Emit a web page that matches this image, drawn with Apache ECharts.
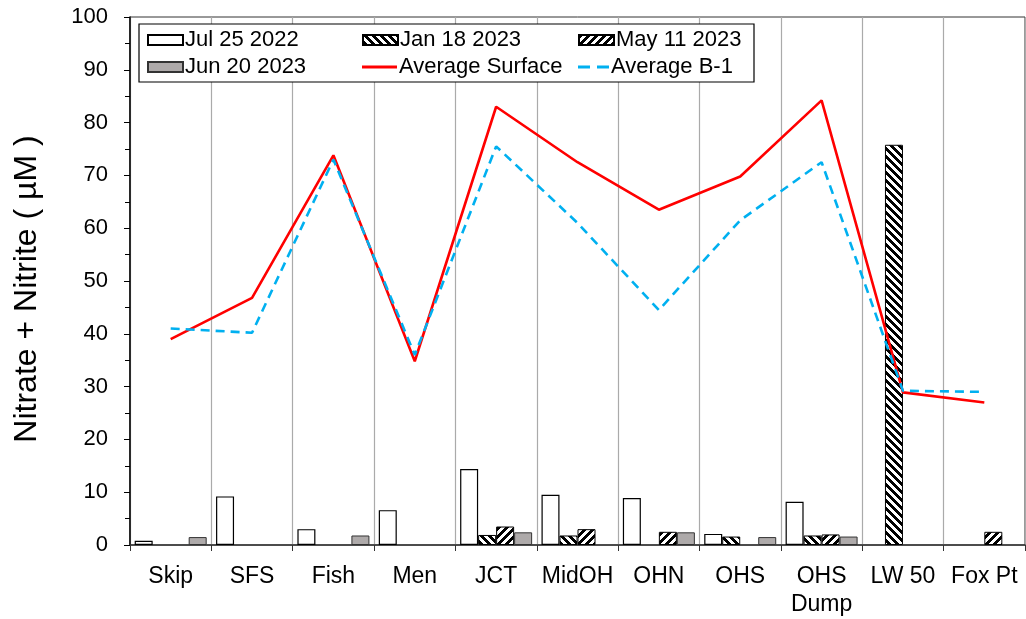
<!DOCTYPE html>
<html>
<head>
<meta charset="utf-8">
<script src="https://cdn.jsdelivr.net/npm/echarts@6/dist/echarts.min.js"></script>
<style>html,body{margin:0;padding:0;background:#fff;}#c{width:1026px;height:619px;}</style>
</head>
<body>
<div id="c"></div>
<script>
const categories = ['Skip','SFS','Fish','Men','JCT','MidOH','OHN','OHS','OHS\nDump','LW 50','Fox Pt'];
const jul2022 = [0.8, 9.2, 3.0, 6.6, 14.4, 9.5, 8.9, 2.1, 8.2, null, null];
const jan2023 = [null, null, null, null, 1.9, 1.8, null, 1.6, 1.8, 75.8, null];
const may2023 = [null, null, null, null, 3.5, 3.0, 2.5, null, 2.0, null, 2.5];
const jun2023 = [1.5, null, 1.8, null, 2.4, null, 2.4, 1.5, 1.6, null, null];
const avgSurface = [39.0, 46.8, 73.8, 34.8, 83.0, 72.5, 63.5, 69.8, 84.2, 28.9, 27.0];
const avgB1 = [41.0, 40.2, 73.0, 36.0, 75.5, 61.0, 44.5, 61.5, 72.5, 29.2, 29.0];
const yTicks = [0,10,20,30,40,50,60,70,80,90,100];
const seriesNames = ['Jul 25 2022','Jan 18 2023','May 11 2023','Jun 20 2023','Average Surface','Average B-1'];

function stripe(dir) {
  const n = 8, cv = document.createElement('canvas');
  cv.width = n; cv.height = n;
  const ctx = cv.getContext('2d');
  const img = ctx.createImageData(n, n);
  for (let y = 0; y < n; y++) for (let x = 0; x < n; x++) {
    const k = dir > 0 ? ((x + y) % n) : (((x - y) % n) + n) % n;
    const v = k < 4 ? 0 : 255;
    const i = (y * n + x) * 4;
    img.data[i] = v; img.data[i+1] = v; img.data[i+2] = v; img.data[i+3] = 255;
  }
  ctx.putImageData(img, 0, 0);
  return { image: cv, repeat: 'repeat' };
}

const font = 'Liberation Sans, Arial, sans-serif';
const legendText = { fontFamily: font, fontSize: 22, color: '#000', lineHeight: 24, padding: [0, 0, 0, -3] };
const colX = [147, 362, 578];
const rowY = [40, 67];
function mkLegend(idx, col, row, extra) {
  return Object.assign({
    left: colX[col], top: rowY[row] - 12, padding: 0, z: 6,
    data: [seriesNames[idx]], icon: 'rect', itemWidth: 35, itemHeight: 10,
    textStyle: legendText
  }, extra || {});
}

const chart = echarts.init(document.getElementById('c'), null, {renderer: 'canvas'});
const barBase = { type: 'bar', barWidth: 18, barGap: '0%' };
chart.setOption({
  animation: false,
  backgroundColor: '#fff',
  grid: { left: 130, right: 1, top: 17, bottom: 72, show: true, borderColor: '#333', borderWidth: 1, backgroundColor: 'transparent' },
  legend: [
    mkLegend(0, 0, 0),
    mkLegend(1, 1, 0),
    mkLegend(2, 2, 0),
    mkLegend(3, 0, 1),
    mkLegend(4, 1, 1, { itemHeight: 3 }),
    mkLegend(5, 2, 1, { itemWidth: 31, itemHeight: 3, icon: 'path://M0,0h12v3h-12z M19,0h12v3h-12z' })
  ],
  graphic: [{
    type: 'rect', z: 5,
    shape: { x: 139, y: 24, width: 615, height: 58 },
    style: { fill: '#fff', stroke: '#000', lineWidth: 1.2 }
  }, {
    type: 'text', x: 27, y: 289, rotation: Math.PI / 2,
    style: { text: 'Nitrate + Nitrite ( µM )', font: '32px ' + font, fill: '#000', textAlign: 'center', textVerticalAlign: 'middle' }
  }],
  xAxis: {
    type: 'category', data: categories, boundaryGap: true,
    axisLine: { lineStyle: { color: '#333', width: 1.5 } },
    axisTick: { show: true, inside: false, length: 6, lineStyle: { color: '#333' } },
    splitLine: { show: true, lineStyle: { color: '#aaa', width: 1.2 } },
    axisLabel: { fontFamily: font, fontSize: 23, color: '#000', margin: 18, lineHeight: 28, interval: 0 }
  },
  yAxis: {
    type: 'value', min: 0, max: 100, interval: 10,
    axisLine: { show: true, lineStyle: { color: '#000', width: 1.5 } },
    axisTick: { show: true, inside: false, length: 6, lineStyle: { color: '#000' } },
    minorTick: { show: true, splitNumber: 2, length: 5, lineStyle: { color: '#000' } },
    splitLine: { show: false },
    axisLabel: { fontFamily: font, fontSize: 22, color: '#000', margin: 22, formatter: v => yTicks.includes(v) ? String(v) : '' }
  },
  series: [
    Object.assign({}, barBase, { name: seriesNames[0], data: jul2022, itemStyle: { color: '#fff', borderColor: '#000', borderWidth: 1.2 } }),
    Object.assign({}, barBase, { name: seriesNames[1], data: jan2023, itemStyle: { color: stripe(-1), borderColor: '#000', borderWidth: 1 } }),
    Object.assign({}, barBase, { name: seriesNames[2], data: may2023, itemStyle: { color: stripe(1), borderColor: '#000', borderWidth: 1 } }),
    Object.assign({}, barBase, { name: seriesNames[3], data: jun2023, itemStyle: { color: '#aeaaaa', borderColor: '#333', borderWidth: 1 } }),
    { name: seriesNames[4], type: 'line', data: avgSurface, symbol: 'none', z: 3,
      lineStyle: { color: '#ff0000', width: 2.6 }, itemStyle: { color: '#ff0000' } },
    { name: seriesNames[5], type: 'line', data: avgB1, symbol: 'none', z: 3,
      lineStyle: { color: '#00b0f0', width: 2.6, type: [9, 6] }, itemStyle: { color: '#00b0f0' } }
  ]
});
</script>
</body>
</html>
